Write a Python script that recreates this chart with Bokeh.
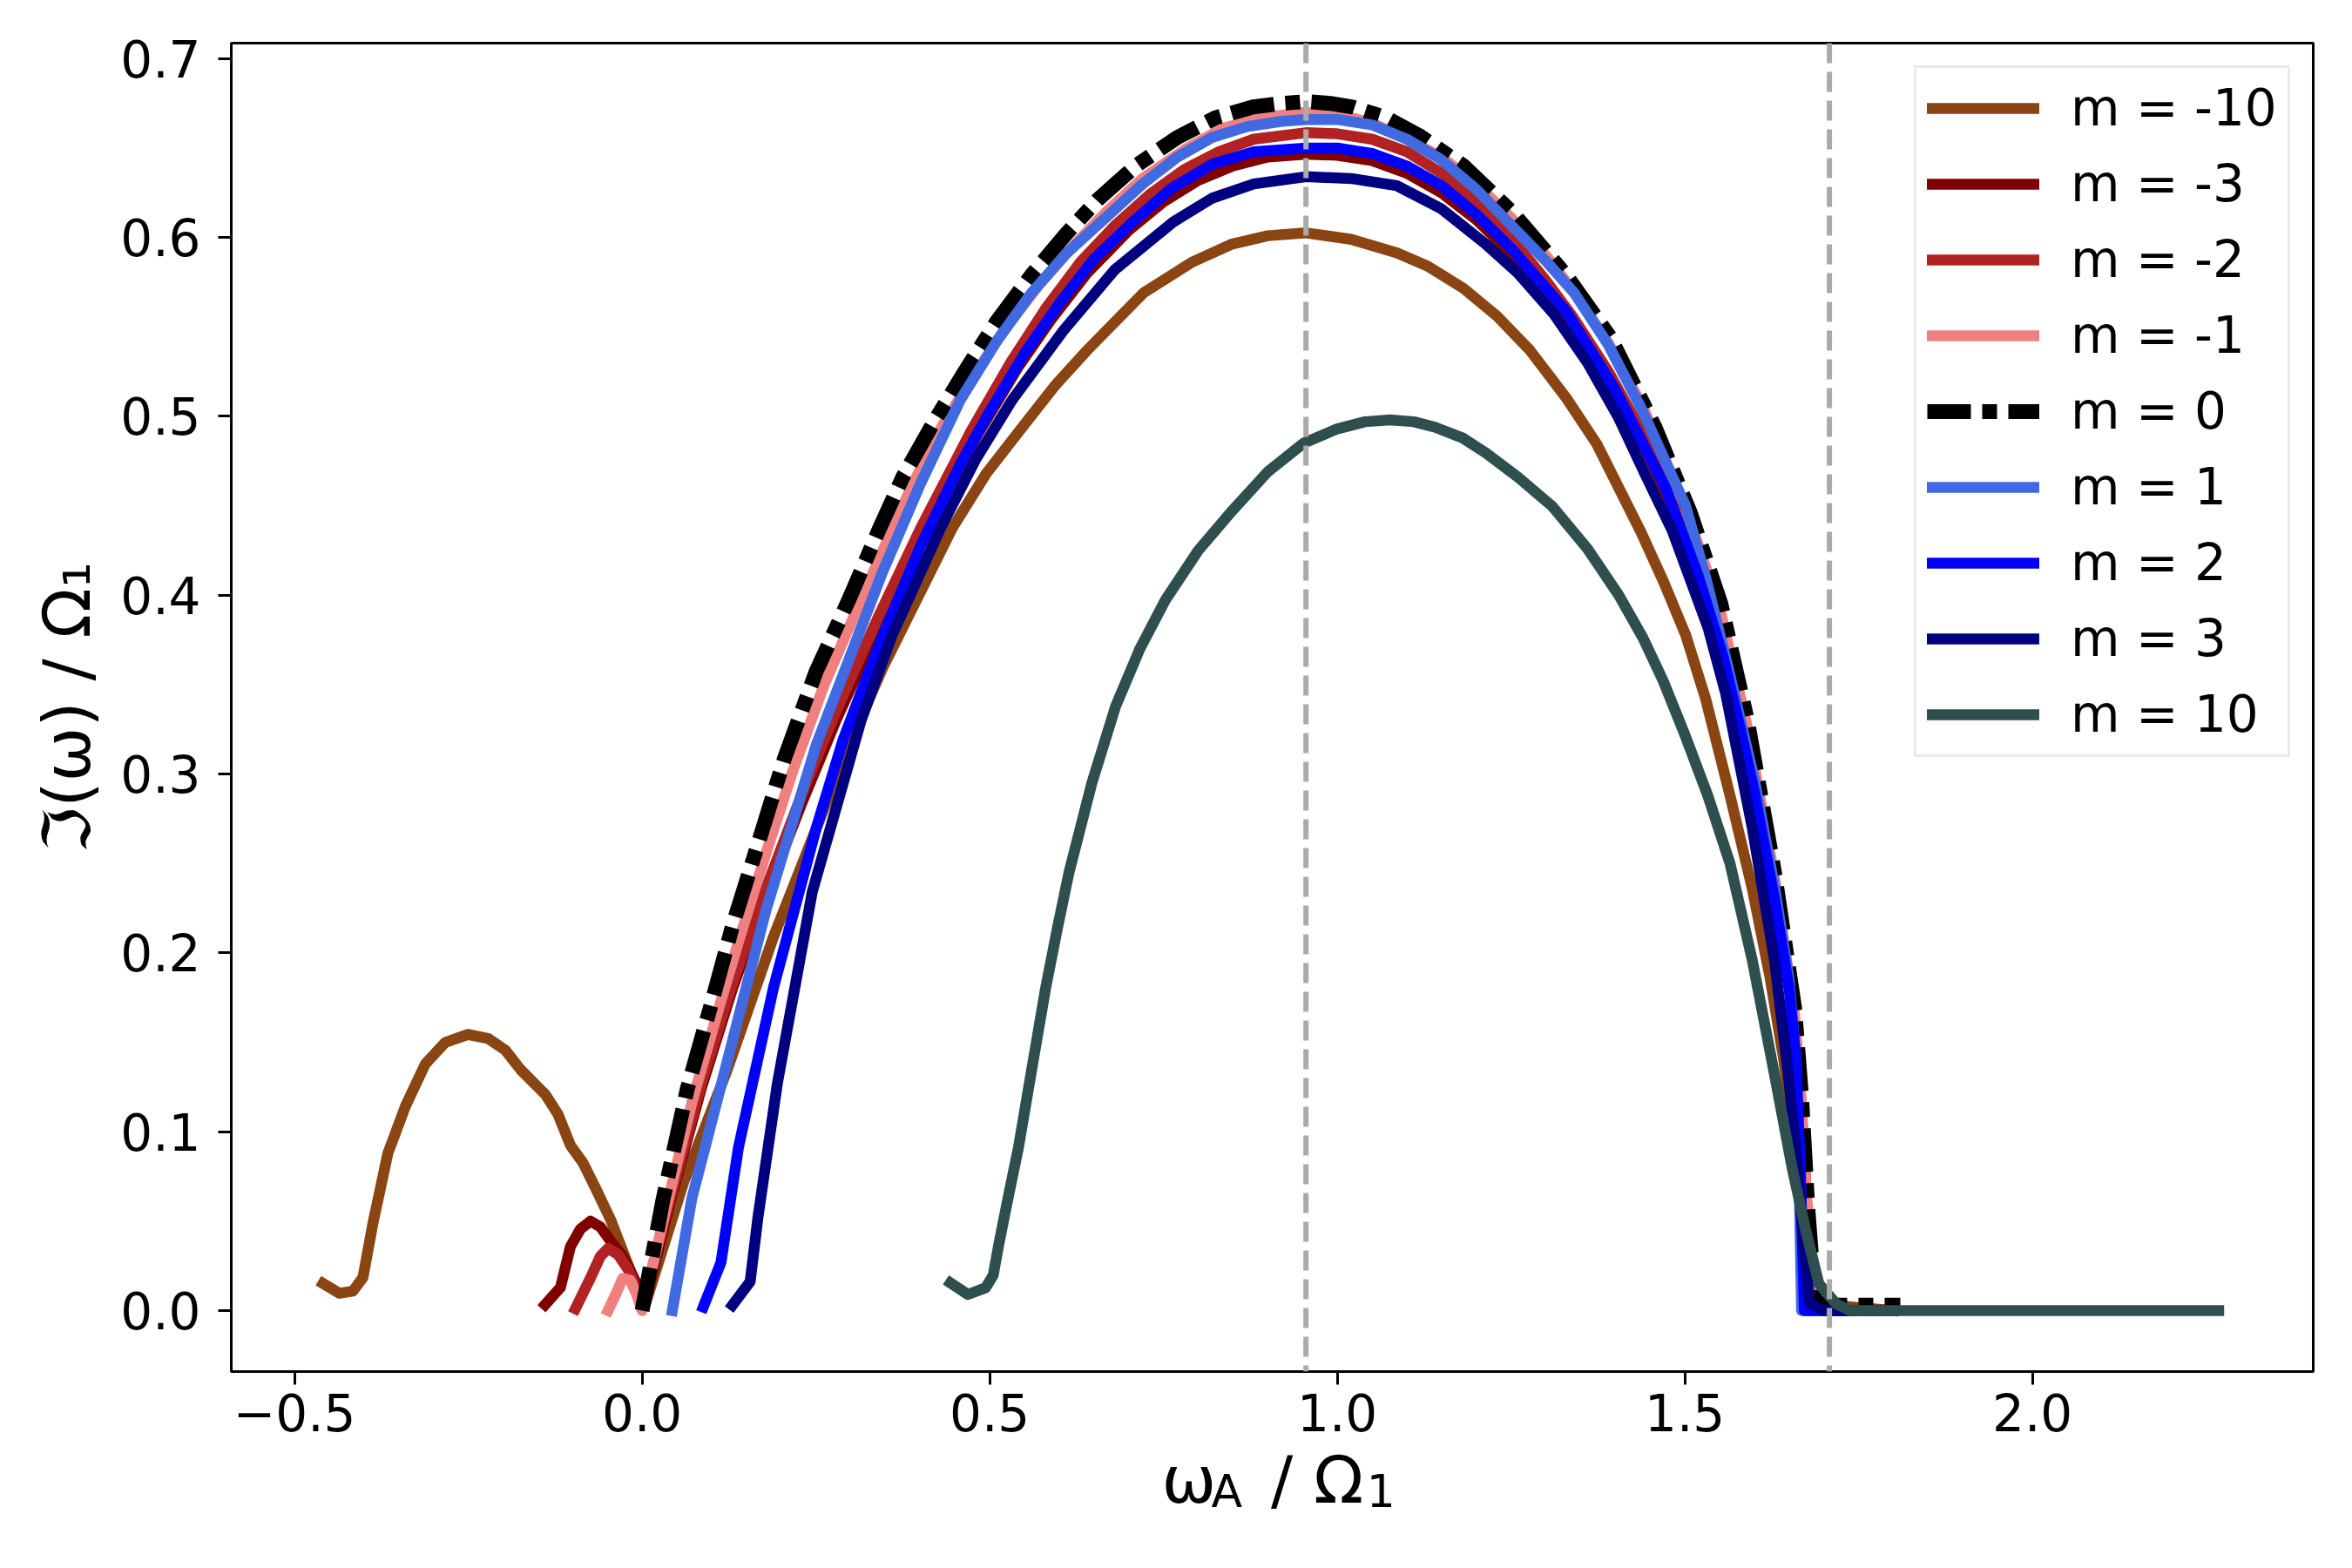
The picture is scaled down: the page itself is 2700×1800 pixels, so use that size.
import math
from bokeh.plotting import figure
from bokeh.models import (Range1d, FixedTicker, Span, Legend, LegendItem, Label)
from bokeh.embed import file_html
from bokeh.resources import INLINE

# ---------------- data ----------------
m_labels = ["m = -10", "m = -3", "m = -2", "m = -1", "m = 0", "m = 1", "m = 2", "m = 3", "m = 10"]
colors = ["#8B4513", "#800000", "#B22222", "#F08080", "#000000", "#4169E1", "#0000FF", "#000080", "#2F4F4F"]

x_m10 = [-0.459, -0.4355, -0.416, -0.4016, -0.3872, -0.3657, -0.3405, -0.3117, -0.283, -0.2506, -0.2218,
         -0.1966, -0.175, -0.139, -0.121, -0.1031, -0.085, -0.067, -0.0456, -0.024, -0.006,
         0.005, 0.060, 0.1218, 0.189, 0.2617, 0.301, 0.3456, 0.4464, 0.4950, 0.545, 0.5935, 0.642, 0.7212,
         0.790, 0.849, 0.900, 0.955, 1.020, 1.0856, 1.130, 1.1816, 1.230, 1.2775, 1.330, 1.3733, 1.4374,
         1.470, 1.5013, 1.530, 1.565, 1.597, 1.6227, 1.642, 1.660, 1.672, 1.680, 1.800]
y_m10 = [0.0152, 0.0097, 0.0109, 0.0185, 0.0489, 0.088, 0.1142, 0.138, 0.150, 0.1544, 0.1522,
         0.1456, 0.1348, 0.1207, 0.1098, 0.0924, 0.0826, 0.0685, 0.0511, 0.0293, 0.0119,
         0.004, 0.072, 0.134, 0.209, 0.2806, 0.319, 0.359, 0.4377, 0.4680, 0.493, 0.517, 0.5377, 0.569,
         0.586, 0.5964, 0.601, 0.6026, 0.599, 0.5914, 0.584, 0.5716, 0.556, 0.5368, 0.510, 0.4846, 0.4349,
         0.407, 0.3777, 0.342, 0.288, 0.236, 0.186, 0.141, 0.088, 0.038, 0.004, 0.000]

x_m3 = [-0.1395, -0.1174, -0.1031, -0.0887, -0.0743, -0.060, -0.0456, -0.0276, -0.0096, -0.0024, 0.003,
        0.040, 0.085, 0.130, 0.180, 0.230, 0.280, 0.340, 0.400, 0.483, 0.540, 0.590, 0.640, 0.700, 0.750,
        0.800, 0.850, 0.900, 0.955, 1.000, 1.050, 1.100, 1.150, 1.200, 1.250, 1.300, 1.340, 1.390, 1.440,
        1.500, 1.550, 1.590, 1.630, 1.658, 1.668, 1.677, 1.685, 1.800]
y_m3 = [0.0033, 0.013, 0.0358, 0.0456, 0.050, 0.0468, 0.039, 0.0304, 0.0163, 0.0054, 0.002,
        0.060, 0.124, 0.180, 0.234, 0.284, 0.331, 0.382, 0.430, 0.490, 0.527, 0.555, 0.580, 0.604, 0.620,
        0.632, 0.640, 0.645, 0.6466, 0.646, 0.643, 0.636, 0.625, 0.610, 0.591, 0.568, 0.547, 0.518, 0.484,
        0.435, 0.378, 0.318, 0.235, 0.160, 0.108, 0.048, 0.000, 0.000]

x_m2 = [-0.096, -0.074, -0.060, -0.049, -0.035, -0.020, -0.006, 0.000,
        0.040, 0.085, 0.130, 0.180, 0.230, 0.280, 0.340, 0.400, 0.4735, 0.530, 0.580, 0.630, 0.681, 0.730,
        0.780, 0.830, 0.880, 0.955, 1.000, 1.050, 1.100, 1.150, 1.200, 1.250, 1.300, 1.340, 1.390, 1.440,
        1.500, 1.550, 1.590, 1.630, 1.658, 1.668, 1.677, 1.685, 1.800]
y_m2 = [0.001, 0.0185, 0.0304, 0.0348, 0.0315, 0.0229, 0.0097, 0.002,
        0.062, 0.127, 0.183, 0.238, 0.289, 0.336, 0.388, 0.437, 0.492, 0.530, 0.560, 0.586, 0.607, 0.624,
        0.638, 0.648, 0.655, 0.6586, 0.658, 0.655, 0.648, 0.636, 0.620, 0.600, 0.576, 0.555, 0.525, 0.490,
        0.440, 0.383, 0.322, 0.238, 0.162, 0.110, 0.050, 0.000, 0.000]

x_m1 = [-0.049, -0.038, -0.028, -0.017, -0.008, 0.000, 0.035, 0.072, 0.108, 0.140, 0.180, 0.217, 0.262,
        0.310, 0.352, 0.388, 0.432, 0.476, 0.522, 0.572, 0.622, 0.667, 0.720, 0.780, 0.835, 0.890, 0.955,
        1.000, 1.050, 1.100, 1.150, 1.200, 1.250, 1.300, 1.340, 1.390, 1.440, 1.500, 1.550, 1.590, 1.630,
        1.658, 1.668, 1.677, 1.685, 1.800]
y_m1 = [0.000, 0.009, 0.018, 0.017, 0.009, 0.000, 0.058, 0.117, 0.166, 0.208, 0.258, 0.302, 0.350,
        0.393, 0.430, 0.461, 0.495, 0.522, 0.549, 0.574, 0.596, 0.614, 0.633, 0.649, 0.661, 0.667, 0.670,
        0.669, 0.664, 0.655, 0.645, 0.630, 0.611, 0.590, 0.570, 0.541, 0.505, 0.450, 0.393, 0.326, 0.240,
        0.165, 0.115, 0.050, 0.000, 0.000]

x_0 = [0.000, 0.030, 0.065, 0.100, 0.130, 0.170, 0.205, 0.250, 0.298, 0.340, 0.375, 0.420, 0.464, 0.510,
       0.560, 0.610, 0.655, 0.710, 0.770, 0.825, 0.879, 0.920, 0.955, 0.990, 1.022, 1.070, 1.118, 1.182,
       1.252, 1.329, 1.393, 1.457, 1.508, 1.552, 1.590, 1.629, 1.658, 1.668, 1.677, 1.687, 1.700, 1.750, 1.810]
y_0 = [0.000, 0.062, 0.124, 0.172, 0.215, 0.265, 0.309, 0.357, 0.398, 0.436, 0.466, 0.497, 0.525, 0.553,
       0.579, 0.602, 0.621, 0.640, 0.656, 0.667, 0.673, 0.675, 0.676, 0.675, 0.673, 0.667, 0.657, 0.640,
       0.614, 0.579, 0.544, 0.494, 0.446, 0.395, 0.330, 0.245, 0.169, 0.119, 0.057, 0.006, 0.003, 0.003, 0.003]

x_p1 = [0.0435, 0.0715, 0.1163, 0.1778, 0.2505, 0.3456, 0.400, 0.4575, 0.510, 0.560, 0.610, 0.661, 0.720,
        0.770, 0.820, 0.870, 0.920, 0.955, 1.000, 1.050, 1.100, 1.1495, 1.200, 1.250, 1.300, 1.341, 1.390,
        1.4374, 1.5013, 1.530, 1.562, 1.600, 1.630, 1.650, 1.660, 1.665, 1.668, 1.800]
y_p1 = [0.000, 0.0626, 0.130, 0.2234, 0.3163, 0.4127, 0.462, 0.509, 0.542, 0.569, 0.591, 0.609, 0.630,
        0.645, 0.656, 0.662, 0.665, 0.666, 0.666, 0.663, 0.655, 0.6436, 0.627, 0.607, 0.587, 0.569, 0.540,
        0.5044, 0.4498, 0.410, 0.360, 0.297, 0.235, 0.185, 0.140, 0.060, 0.000, 0.000]

x_p2 = [0.088, 0.1134, 0.1386, 0.189, 0.2505, 0.289, 0.3456, 0.400, 0.4575, 0.496, 0.550, 0.600, 0.650,
        0.706, 0.760, 0.820, 0.880, 0.955, 1.000, 1.050, 1.100, 1.150, 1.200, 1.250, 1.329, 1.400, 1.4725,
        1.520, 1.5555, 1.580, 1.600, 1.630, 1.650, 1.660, 1.666, 1.672, 1.800]
y_p2 = [0.002, 0.0269, 0.0912, 0.1805, 0.2698, 0.319, 0.377, 0.427, 0.473, 0.500, 0.535, 0.563, 0.588,
        0.6087, 0.627, 0.641, 0.648, 0.650, 0.650, 0.647, 0.640, 0.629, 0.613, 0.594, 0.559, 0.515, 0.460,
        0.410, 0.365, 0.325, 0.290, 0.228, 0.180, 0.140, 0.080, 0.000, 0.000]

x_p3 = [0.130, 0.1554, 0.1666, 0.1946, 0.2447, 0.315, 0.360, 0.4296, 0.480, 0.532, 0.606, 0.680, 0.764,
        0.820, 0.880, 0.955, 1.020, 1.0856, 1.150, 1.2134, 1.260, 1.312, 1.360, 1.405, 1.440, 1.482, 1.5332,
        1.5588, 1.597, 1.629, 1.648, 1.661, 1.671, 1.680, 1.700, 1.800]
y_p3 = [0.003, 0.0162, 0.052, 0.127, 0.234, 0.330, 0.378, 0.4377, 0.476, 0.509, 0.548, 0.582, 0.6087,
        0.622, 0.630, 0.634, 0.633, 0.629, 0.616, 0.5964, 0.580, 0.557, 0.530, 0.499, 0.470, 0.436, 0.382,
        0.345, 0.270, 0.196, 0.135, 0.085, 0.036, 0.004, 0.000, 0.000]

x_p10 = [0.4435, 0.4687, 0.494, 0.505, 0.5134, 0.527, 0.5414, 0.561, 0.5806, 0.597, 0.614, 0.647, 0.681,
         0.716, 0.7532, 0.800, 0.849, 0.900, 0.9515, 1.000, 1.040, 1.076, 1.110, 1.140, 1.180, 1.2134, 1.260,
         1.309, 1.360, 1.405, 1.440, 1.469, 1.500, 1.533, 1.565, 1.597, 1.629, 1.6545, 1.674, 1.693, 1.718,
         1.738, 2.268]
y_p10 = [0.0155, 0.009, 0.0127, 0.0197, 0.0376, 0.064, 0.0912, 0.136, 0.1805, 0.213, 0.2448, 0.295, 0.3377,
         0.370, 0.3976, 0.425, 0.4473, 0.469, 0.485, 0.493, 0.497, 0.498, 0.497, 0.494, 0.488, 0.4796, 0.466,
         0.4498, 0.426, 0.400, 0.376, 0.352, 0.322, 0.288, 0.250, 0.196, 0.132, 0.0795, 0.0448, 0.0149, 0.0037,
         0.000, 0.000]

series_x = [x_m10, x_m3, x_m2, x_m1, x_0, x_p1, x_p2, x_p3, x_p10]
series_y = [y_m10, y_m3, y_m2, y_m1, y_0, y_p1, y_p2, y_p3, y_p10]

vlines = [0.955, 1.708]

x_ticks = [-0.5, 0.0, 0.5, 1.0, 1.5, 2.0]
x_tick_labels = ["\u22120.5", "0.0", "0.5", "1.0", "1.5", "2.0"]
y_ticks = [0.0, 0.1, 0.2, 0.3, 0.4, 0.5, 0.6, 0.7]
y_tick_labels = ["0.0", "0.1", "0.2", "0.3", "0.4", "0.5", "0.6", "0.7"]

# ---------------- layout ----------------
XMIN, XMAX = -0.591, 2.404
YMIN, YMAX = -0.0341, 0.7087
W, H = 2684, 1800
FL, FR, FT, FB = 265, 2655, 49, 1574   # frame edges in page pixels
SX = (FR - FL) / (XMAX - XMIN)
SY = (FB - FT) / (YMAX - YMIN)

def px2x(px):
    return XMIN + (px - FL) / SX

def py2y(py):
    return YMIN + (FB - py) / SY

FONT = "DejaVu Sans"
NB = "\u00a0"
TH = "\u2009"

p = figure(width=W, height=H, output_backend="svg", toolbar_location=None,
           x_range=Range1d(XMIN, XMAX), y_range=Range1d(YMIN, YMAX),
           min_border_left=FL, min_border_right=W - FR,
           min_border_top=FT, min_border_bottom=H - FB)
p.background_fill_color = "white"
p.border_fill_color = "white"
p.outline_line_color = "black"
p.outline_line_width = 3
p.grid.visible = False

renderers = []
for i in range(len(series_x)):
    if m_labels[i] == "m = 0":
        r = p.line(series_x[i], series_y[i], line_color=colors[i], line_width=17,
                   line_dash="50 13 17 13", line_cap="butt", line_join="round")
    else:
        r = p.line(series_x[i], series_y[i], line_color=colors[i], line_width=12.5,
                   line_cap="square", line_join="round")
    renderers.append(r)

for v in vlines:
    p.add_layout(Span(location=v, dimension="height", line_color="#aaaaaa",
                      line_width=6, line_dash="23 10"))

for ax in (p.xaxis[0], p.yaxis[0]):
    ax.axis_line_width = 3
    ax.axis_line_color = "black"
    ax.major_tick_line_width = 3
    ax.major_tick_in = 0
    ax.major_tick_out = 15
    ax.minor_tick_line_color = None
    ax.major_label_text_font = FONT
    ax.major_label_text_font_size = "58px"
    ax.major_label_text_color = "black"

p.xaxis[0].ticker = FixedTicker(ticks=x_ticks)
p.xaxis[0].major_label_overrides = {t: l for t, l in zip(x_ticks, x_tick_labels)}
p.xaxis[0].major_label_standoff = 10
p.yaxis[0].ticker = FixedTicker(ticks=y_ticks)
p.yaxis[0].major_label_overrides = {t: l for t, l in zip(y_ticks, y_tick_labels)}
p.yaxis[0].major_label_standoff = 20

# y axis label as a real axis label
p.yaxis[0].axis_label = "\u2111(\u03c9) / \u03a9\u2081"
p.yaxis[0].axis_label_text_font = FONT
p.yaxis[0].axis_label_text_font_size = "75px"
p.yaxis[0].axis_label_text_font_style = "normal"
p.yaxis[0].axis_label_text_color = "black"
p.yaxis[0].axis_label_standoff = 14

# x axis label: main symbols and their subscripts (two text lines placed under the axis)
def lab(text, px, py, size, style="normal"):
    p.add_layout(Label(x=px2x(px), y=py2y(py), text=text, text_font=FONT,
                       text_font_size=f"{size}px", text_font_style=style,
                       text_align="left", text_baseline="alphabetic",
                       text_color="black"), "below")

lab("\u03c9" + NB * 2 + TH + "/" + NB + "\u03a9", 1333, 1698, 75)
lab("A" + NB * 8 + TH + "1", 1390, 1711, 52)

legend = Legend(items=[LegendItem(label=m_labels[i], renderers=[renderers[i]]) for i in range(len(renderers))],
                location=(2197 - FL, FB - 869), padding=12, spacing=19,
                glyph_width=129, glyph_height=68, label_height=68, label_standoff=36,
                label_text_font=FONT, label_text_font_size="58px", label_text_color="black",
                border_line_color="#d6d6d6", border_line_width=3,
                background_fill_color="white", background_fill_alpha=0.8)
p.add_layout(legend)

open("out.html", "w").write(file_html(p, INLINE))
